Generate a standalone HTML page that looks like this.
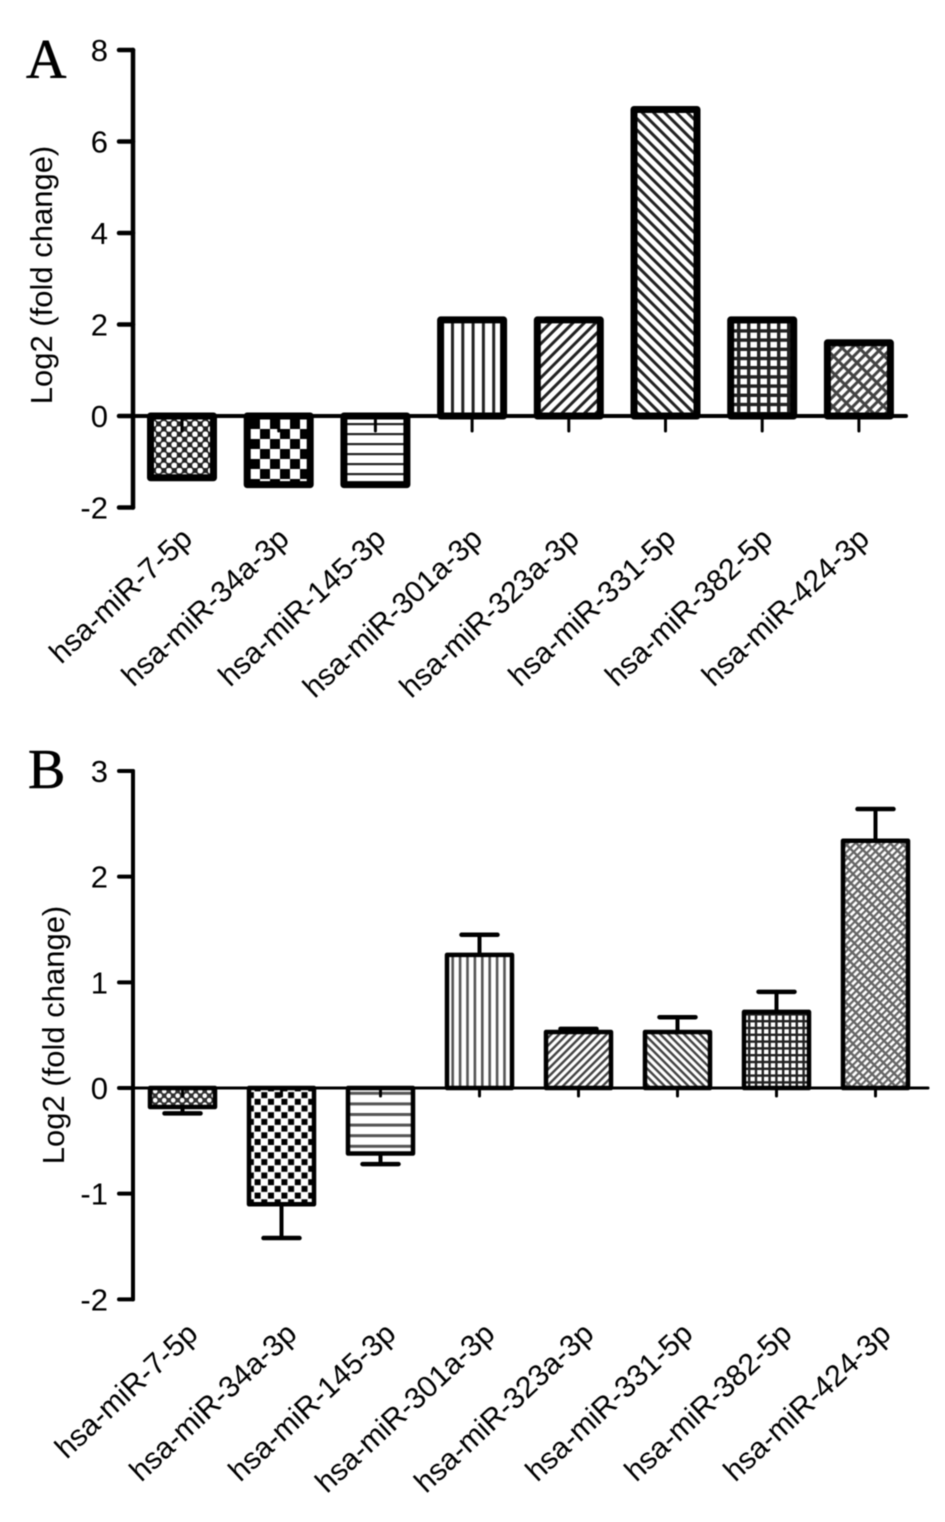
<!DOCTYPE html>
<html>
<head>
<meta charset="utf-8">
<title>miRNA fold change</title>
<style>
html,body{margin:0;padding:0;background:#fff}
svg{display:block;filter:blur(0.4px)}
text{font-family:"Liberation Sans",sans-serif;fill:#000}
text.letter{font-family:"Liberation Serif",serif;fill:#000;stroke:#000;stroke-width:0.6}
</style>
</head>
<body>
<svg id="chart" xmlns="http://www.w3.org/2000/svg" width="945" height="1522" viewBox="0 0 945 1522">
<defs>
<pattern id="a0" width="10.4" height="10.4" patternUnits="userSpaceOnUse"><rect width="10.4" height="10.4" fill="#222"/><circle cx="2.6" cy="2.6" r="2.9" fill="#fff"/><circle cx="7.8" cy="7.8" r="2.9" fill="#fff"/></pattern>
<pattern id="a1" width="20" height="20" patternUnits="userSpaceOnUse" x="260" y="429"><rect width="20" height="20" fill="#fff"/><rect x="0" y="0" width="10" height="10" fill="#000"/><rect x="10" y="10" width="10" height="10" fill="#000"/></pattern>
<pattern id="a2" width="15" height="10" patternUnits="userSpaceOnUse" y="423"><rect width="15" height="10" fill="#fff"/><rect y="0" width="15" height="2.2" fill="#222"/></pattern>
<pattern id="a3" width="10.3" height="10" patternUnits="userSpaceOnUse" x="451"><rect width="10.3" height="10" fill="#fff"/><rect x="0" width="3" height="10" fill="#222"/></pattern>
<pattern id="a4" width="8" height="8" patternUnits="userSpaceOnUse" patternTransform="rotate(-45)"><rect width="8" height="8" fill="#fff"/><rect y="0" width="8" height="3" fill="#222"/></pattern>
<pattern id="a5" width="8" height="8" patternUnits="userSpaceOnUse" patternTransform="rotate(45)"><rect width="8" height="8" fill="#fff"/><rect y="0" width="8" height="3" fill="#222"/></pattern>
<pattern id="a6" width="10" height="9.2" patternUnits="userSpaceOnUse" x="727" y="320"><rect width="10" height="9.2" fill="#fff"/><rect width="3.4" height="9.2" fill="#222"/><rect width="10" height="3.4" fill="#222"/></pattern>
<pattern id="a7" width="12" height="7" patternUnits="userSpaceOnUse" patternTransform="rotate(-45)"><rect width="12" height="7" fill="#fff"/><rect width="12" height="3" fill="#444"/><rect x="0" width="3" height="7" fill="#444"/></pattern>
<pattern id="b0" width="9" height="9" patternUnits="userSpaceOnUse"><rect width="9" height="9" fill="#333"/><circle cx="2.2" cy="2.2" r="2.3" fill="#fff"/><circle cx="6.7" cy="6.7" r="2.3" fill="#fff"/></pattern>
<pattern id="b1" width="13.4" height="13.4" patternUnits="userSpaceOnUse"><rect width="13.4" height="13.4" fill="#fff"/><rect x="0" y="0" width="6" height="6" fill="#000"/><rect x="6.7" y="6.7" width="6" height="6" fill="#000"/></pattern>
<pattern id="b2" width="10" height="10.6" patternUnits="userSpaceOnUse"><rect width="10" height="10.6" fill="#fff"/><rect width="10" height="3" fill="#555"/></pattern>
<pattern id="b3" width="7.4" height="10" patternUnits="userSpaceOnUse"><rect width="7.4" height="10" fill="#fff"/><rect width="2.6" height="10" fill="#555"/></pattern>
<pattern id="b4" width="5.6" height="5.6" patternUnits="userSpaceOnUse" patternTransform="rotate(-45)"><rect width="5.6" height="5.6" fill="#fff"/><rect width="5.6" height="2.4" fill="#444"/></pattern>
<pattern id="b5" width="5.6" height="5.6" patternUnits="userSpaceOnUse" patternTransform="rotate(45)"><rect width="5.6" height="5.6" fill="#fff"/><rect width="5.6" height="2.4" fill="#444"/></pattern>
<pattern id="b6" width="6.8" height="6.8" patternUnits="userSpaceOnUse"><rect width="6.8" height="6.8" fill="#fff"/><rect width="2.4" height="6.8" fill="#222"/><rect width="6.8" height="2.4" fill="#222"/></pattern>
<pattern id="b7" width="8" height="5" patternUnits="userSpaceOnUse" patternTransform="rotate(-45)"><rect width="8" height="5" fill="#fff"/><rect width="8" height="2.2" fill="#666"/><rect width="2.4" height="5" fill="#666"/></pattern>
</defs>
</svg>
<script>
var categories = ['hsa-miR-7-5p','hsa-miR-34a-3p','hsa-miR-145-3p','hsa-miR-301a-3p','hsa-miR-323a-3p','hsa-miR-331-5p','hsa-miR-382-5p','hsa-miR-424-3p'];
var valuesA = [-1.35,-1.5,-1.5,2.1,2.1,6.7,2.1,1.6];
var valuesB = [-0.18,-1.1,-0.62,1.26,0.53,0.53,0.72,2.34];
var errorsB = [0.06,0.32,0.1,0.19,0.03,0.14,0.19,0.3];
var ticksA = [8,6,4,2,0,-2];
var ticksB = [3,2,1,0,-1,-2];
var yTitle = 'Log2 (fold change)';

var svg = document.getElementById('chart');
var NS = 'http://www.w3.org/2000/svg';

function make(tag, attrs, parent) {
  var el = document.createElementNS(NS, tag);
  for (var k in attrs) el.setAttribute(k, attrs[k]);
  parent.appendChild(el);
  return el;
}
function segment(parent, x1, y1, x2, y2, w) {
  return make('line', {x1:x1, y1:y1, x2:x2, y2:y2, stroke:'#000', 'stroke-width':w, 'stroke-linecap':'round'}, parent);
}
function scaleY(c, v) {
  return c.y0 + (c.top - c.y0) * v / c.tickMax;
}
function scaleX(c, i) {
  return c.x0 + c.step * i;
}

function drawPanel(c, values, errors, ticks) {
  var g = make('g', {}, svg);
  
  

  var letter = make('text', {x:c.letterX, y:c.letterY, 'font-size':c.letterSize}, g);
  letter.setAttribute('class', 'letter');
  letter.textContent = c.id.toUpperCase();
  
  

  var title = make('text', {'font-size':c.titleSize, 'text-anchor':'middle', transform:'translate(' + c.titleX + ' ' + c.titleY + ') rotate(-90)'}, g);
  title.textContent = yTitle;
  
  

  values.forEach(function (v, i) {
    var xc = scaleX(c, i);
    var y = scaleY(c, v);
    var top = Math.min(y, c.y0);
    var h = Math.abs(y - c.y0);

    if (errors) {
      var ye = scaleY(c, v + (v < 0 ? -errors[i] : errors[i]));
      var err = make('g', {}, g);
      
      
      segment(err, xc, y, xc, ye, 4);
      segment(err, xc - 18, ye, xc + 18, ye, 4.5);
    }

    var bar = make('rect', {x:xc - c.barW / 2, y:top, width:c.barW, height:h, fill:'url(#' + c.id + i + ')', stroke:'#000', 'stroke-width':c.barStroke, 'stroke-linejoin':'round'}, g);
    
    

    var tick = segment(g, xc, c.y0, xc, c.y0 + c.xTick, 3);
    
    

    var lab = make('text', {'font-size':c.labelSize, 'text-anchor':'end', transform:'translate(' + (xc + c.labelDx) + ' ' + c.labelY + ') rotate(' + c.labelAngle + ')'}, g);
    lab.textContent = categories[i];
    
    
  });

  var yAxis = segment(g, c.axisX, scaleY(c, ticks[0]), c.axisX, scaleY(c, ticks[ticks.length - 1]), c.axisW);
  
  

  var xAxis = segment(g, c.axisX, c.y0, c.axisEnd, c.y0, c.baseW);
  
  

  ticks.forEach(function (t) {
    var y = scaleY(c, t);
    var tk = segment(g, c.axisX - 14, y, c.axisX, y, c.axisW);
    
    
    var lbl = make('text', {x:c.axisX - 25, y:y + c.tickDy, 'font-size':c.tickSize, 'text-anchor':'end'}, g);
    lbl.textContent = t;
    
    
  });
}

drawPanel({id:'a', letterX:26, letterY:78, letterSize:56, titleX:52, titleY:275, titleSize:31,
  axisX:133, axisEnd:906, axisW:4.5, baseW:4, y0:416, top:50, tickMax:8, x0:182, step:96.7,
  barW:63, barStroke:7, xTick:15, labelSize:30, labelDx:12, labelY:541, labelAngle:-43, tickSize:31, tickDy:11},
  valuesA, null, ticksA);

drawPanel({id:'b', letterX:28, letterY:788, letterSize:56, titleX:64, titleY:1035, titleSize:31,
  axisX:133, axisEnd:928, axisW:4, baseW:3, y0:1088, top:771, tickMax:3, x0:182.5, step:99,
  barW:65, barStroke:4.5, xTick:8, labelSize:30, labelDx:17, labelY:1336, labelAngle:-43, tickSize:31, tickDy:11},
  valuesB, errorsB, ticksB);
</script>
</body>
</html>
